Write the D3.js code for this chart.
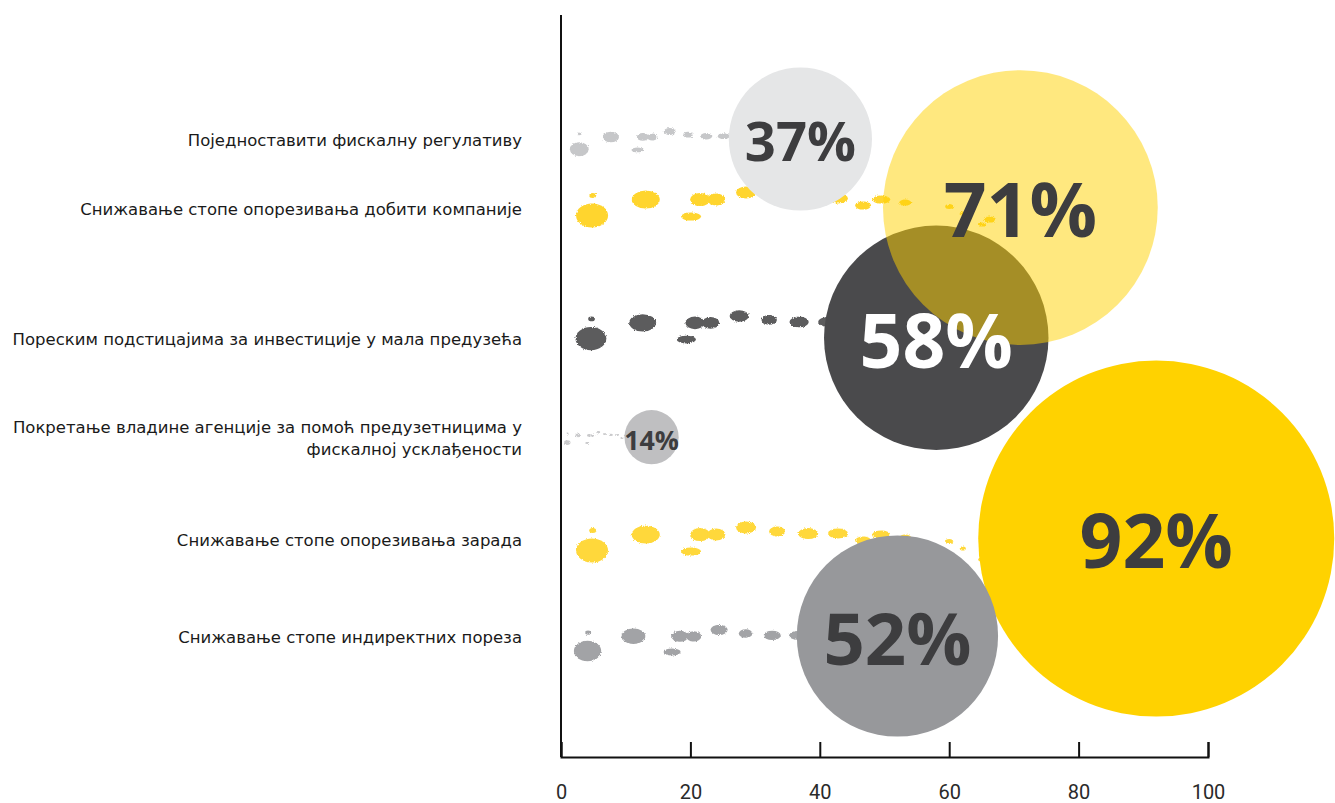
<!DOCTYPE html>
<html>
<head>
<meta charset="utf-8">
<script src="https://cdn.jsdelivr.net/npm/d3@7/dist/d3.min.js"></script>
<style>
  html, body { margin: 0; padding: 0; background: #ffffff; }
  svg { display: block; }
</style>
</head>
<body>
<script>
// Survey answers: share of respondents per proposed measure
const categories = [
  "Поједноставити фискалну регулативу",
  "Снижавање стопе опорезивања добити компаније",
  "Пореским подстицајима за инвестиције у мала предузећа",
  "Покретање владине агенције за помоћ предузетницима у\nфискалној усклађености",
  "Снижавање стопе опорезивања зарада",
  "Снижавање стопе индиректних пореза"
];
const values = [37, 71, 58, 14, 92, 52];
const tickValues = [0, 20, 40, 60, 80, 100];

// Row placement (in row slots) and per-row colours
const rowSlot = [0, 0.69, 2, 3, 4.02, 5];
const trailLift = [1, -4, -11, 0, 0, 4];
const palette = [
  { fill: "#e5e6e7", opacity: 1,   dot: "#c6c7c9", text: "#3d3d3f" },
  { fill: "#ffd200", opacity: 0.5, dot: "#ffd52e", text: "#3d3d3f" },
  { fill: "#4a4a4c", opacity: 1,   dot: "#5b5b5d", text: "#ffffff" },
  { fill: "#bfbfc1", opacity: 1,   dot: "#c9c9cb", text: "#3d3d3f" },
  { fill: "#ffd200", opacity: 1,   dot: "#ffd83a", text: "#3d3d3f" },
  { fill: "#97989b", opacity: 1,   dot: "#a2a3a6", text: "#3d3d3f" }
];

// Paint-splash trail leading up to each bubble (u in axis units, dy/rx/ry in px)
const splash = [
  { u: 4.9,  dy: -8, rx: 3.5, ry: 2.5 },
  { u: 4.8,  dy: 12, rx: 16,  ry: 12 },
  { u: 13.1, dy: -4, rx: 14,  ry: 9 },
  { u: 21.5, dy: -4, rx: 10,  ry: 6.5 },
  { u: 24.0, dy: -4, rx: 9,   ry: 6 },
  { u: 20.1, dy: 13, rx: 10,  ry: 4 },
  { u: 28.6, dy: -11, rx: 10, ry: 6 },
  { u: 33.4, dy: -7, rx: 8,   ry: 5 },
  { u: 38.2, dy: -5, rx: 10,  ry: 5.5 },
  { u: 42.8, dy: -5, rx: 10,  ry: 5 },
  { u: 46.7, dy: 2,  rx: 8,   ry: 4 },
  { u: 49.5, dy: -4, rx: 9,   ry: 4 },
  { u: 53.2, dy: -1, rx: 6,   ry: 3 },
  { u: 60.0, dy: 3,  rx: 4,   ry: 2.5 },
  { u: 62.1, dy: 10, rx: 3,   ry: 2 },
  { u: 65.1, dy: 21, rx: 4,   ry: 2 },
  { u: 66.3, dy: 16, rx: 6,   ry: 3 }
];

const W = 1335, H = 803;
const svg = d3.select("body").append("svg").attr("width", W).attr("height", H);

const x = d3.scaleLinear().domain([0, 100]).range([561, 1208]);
const y = d3.scaleLinear().domain([0, 5]).range([139, 636]);
const r = d3.scaleLinear().domain([0, 100]).range([0, 193.5]);
const trailScale = d3.scalePow().exponent(1.1).domain([0, 60]).range([0, 1]).clamp(true);

// Rough edge for the splashes
const defs = svg.append("defs");
const rough = defs.append("filter").attr("id", "rough")
  .attr("x", "-30%").attr("y", "-30%").attr("width", "160%").attr("height", "160%");
rough.append("feTurbulence").attr("type", "fractalNoise").attr("baseFrequency", 0.9)
  .attr("numOctaves", 2).attr("seed", 3).attr("result", "noise");
rough.append("feDisplacementMap").attr("in", "SourceGraphic").attr("in2", "noise")
  .attr("scale", 3).attr("xChannelSelector", "R").attr("yChannelSelector", "G");

const rows = values.map((v, i) => ({ i, v, label: categories[i], slot: rowSlot[i], style: palette[i] }));

// Trails
const trails = svg.append("g").attr("filter", "url(#rough)");
rows.forEach(d => {
  const s = trailScale(d.v);
  const cy0 = y(d.slot) + trailLift[d.i];
  trails.append("g").attr("fill", d.style.dot)
    .selectAll("ellipse").data(splash).join("ellipse")
    .attr("cx", b => x(b.u * s))
    .attr("cy", b => cy0 + b.dy * Math.sqrt(s))
    .attr("rx", b => Math.max(1.2, b.rx * s))
    .attr("ry", b => Math.max(1.0, b.ry * s));
});

// Bubbles: opaque first, translucent on top
const order = rows.slice().sort((a, b) => (b.style.opacity - a.style.opacity));
svg.append("g").selectAll("circle").data(order).join("circle")
  .attr("cx", d => x(d.v))
  .attr("cy", d => y(d.slot))
  .attr("r", d => r(d.v))
  .attr("fill", d => d.style.fill)
  .attr("fill-opacity", d => d.style.opacity);

// Percentage labels
const fontSize = d => Math.min(75, 10 + r(d.v) * 0.62);
svg.append("g").selectAll("text").data(rows).join("text")
  .attr("x", d => x(d.v))
  .attr("y", d => y(d.slot) + fontSize(d) * 0.357 + 3)
  .attr("text-anchor", "middle")
  .attr("font-family", "'Open Sans', sans-serif")
  .attr("font-weight", 700)
  .attr("font-size", d => fontSize(d))
  .attr("fill", d => d.style.text)
  .text(d => d.v + "%");

// Category labels
const lineH = 22;
const labels = svg.append("g")
  .attr("font-family", "'DejaVu Sans', sans-serif")
  .attr("font-size", 16.5)
  .attr("fill", "#1a1a1a")
  .attr("text-anchor", "end");
rows.forEach(d => {
  const lines = d.label.split("\n");
  const t = labels.append("text")
    .attr("x", 522)
    .attr("y", y(d.slot) + 1 - (lines.length - 1) * lineH / 2)
    .attr("dominant-baseline", "central");
  lines.forEach((ln, k) => {
    t.append("tspan").attr("x", 522).attr("dy", k === 0 ? 0 : lineH).text(ln);
  });
});

// Axes
svg.append("line")
  .attr("x1", x(0)).attr("x2", x(0))
  .attr("y1", 15).attr("y2", 757)
  .attr("stroke", "#111").attr("stroke-width", 2);

const xAxis = d3.axisBottom(x).tickValues(tickValues)
  .tickSizeInner(-15).tickSizeOuter(-15).tickPadding(28);
const gx = svg.append("g").attr("transform", "translate(0,757)").call(xAxis);
gx.select(".domain").attr("stroke", "#111").attr("stroke-width", 2);
gx.selectAll(".tick line").attr("stroke", "#111").attr("stroke-width", 2);
gx.selectAll(".tick text")
  .attr("font-family", "Roboto, sans-serif")
  .attr("font-size", 20)
  .attr("fill", "#2a2a2a");
</script>
</body>
</html>
